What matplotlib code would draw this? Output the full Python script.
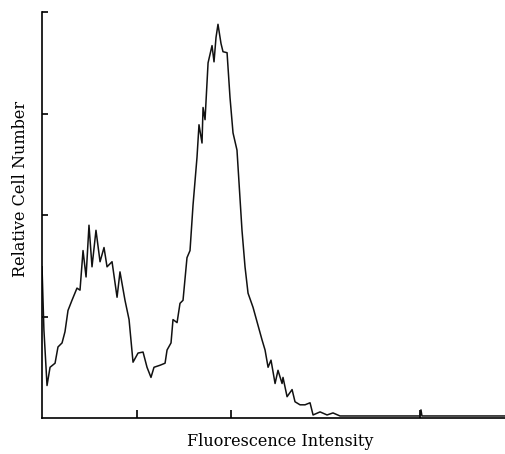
import matplotlib
matplotlib.use("Agg")
import matplotlib.pyplot as plt

# fluorescence in log decades, relative counts
intensity = [0.00, 0.02, 0.053, 0.085, 0.138, 0.169, 0.212, 0.243, 0.275, 0.317,
             0.370, 0.402, 0.434, 0.466, 0.497, 0.529, 0.571, 0.614, 0.656, 0.688,
             0.741, 0.794, 0.825, 0.878, 0.921, 0.963, 1.016, 1.069, 1.111, 1.153,
             1.185, 1.249, 1.302, 1.323, 1.365, 1.386, 1.429, 1.460, 1.492, 1.534,
             1.566, 1.598, 1.640, 1.661, 1.693, 1.704, 1.725, 1.757, 1.799, 1.820,
             1.841, 1.862, 1.894, 1.915, 1.958, 1.989, 2.021, 2.063, 2.116, 2.148,
             2.180, 2.233, 2.328, 2.360, 2.392, 2.423, 2.466, 2.497, 2.540, 2.550,
             2.593, 2.646, 2.677, 2.730, 2.783, 2.836, 2.868, 2.942, 3.016, 3.079,
             3.153, 3.50, 4.00, 4.01, 4.02, 4.50, 4.90]
cells = [149, 87, 32, 50, 54, 70, 74, 85, 106, 116,
         128, 126, 165, 139, 190, 149, 185, 154, 168, 149,
         154, 119, 144, 116, 97, 55, 64, 65, 50, 40,
         50, 52, 54, 67, 74, 97, 94, 113, 116, 158,
         165, 210, 257, 289, 271, 306, 294, 350, 367, 351,
         375, 388, 369, 361, 360, 316, 281, 264, 185, 149,
         123, 109, 77, 67, 50, 57, 34, 47, 34, 40,
         21, 28, 16, 13, 13, 15, 3, 6, 3, 5,
         2, 2, 2, 8, 2, 2, 2]

x_ticks = [1, 2, 4]
y_ticks = [100, 200, 300, 400]

fig = plt.figure(figsize=(5.05, 4.54), dpi=100)
ax = fig.add_axes([0.0832, 0.0793, 0.917, 0.894])
ax.plot(intensity, cells, color="#111111", lw=1.1)
ax.set_xlim(0, 4.9)
ax.set_ylim(0, 400)
for s in ["top", "right"]:
    ax.spines[s].set_visible(False)
for s in ["left", "bottom"]:
    ax.spines[s].set_linewidth(1.2)
ax.set_xticks(x_ticks)
ax.set_yticks(y_ticks)
ax.set_xticklabels([])
ax.set_yticklabels([])
ax.tick_params(axis="x", direction="in", length=6, width=1.2)
ax.tick_params(axis="y", direction="in", length=4, width=1.2)

font = {"family": "DejaVu Serif", "size": 11.5}
fig.text(0.555, 0.027, "Fluorescence Intensity", ha="center", va="center", **font)
fig.text(0.04, 0.584, "Relative Cell Number", ha="center", va="center",
         rotation=90, **font)

fig.savefig("out.png", dpi=100)
